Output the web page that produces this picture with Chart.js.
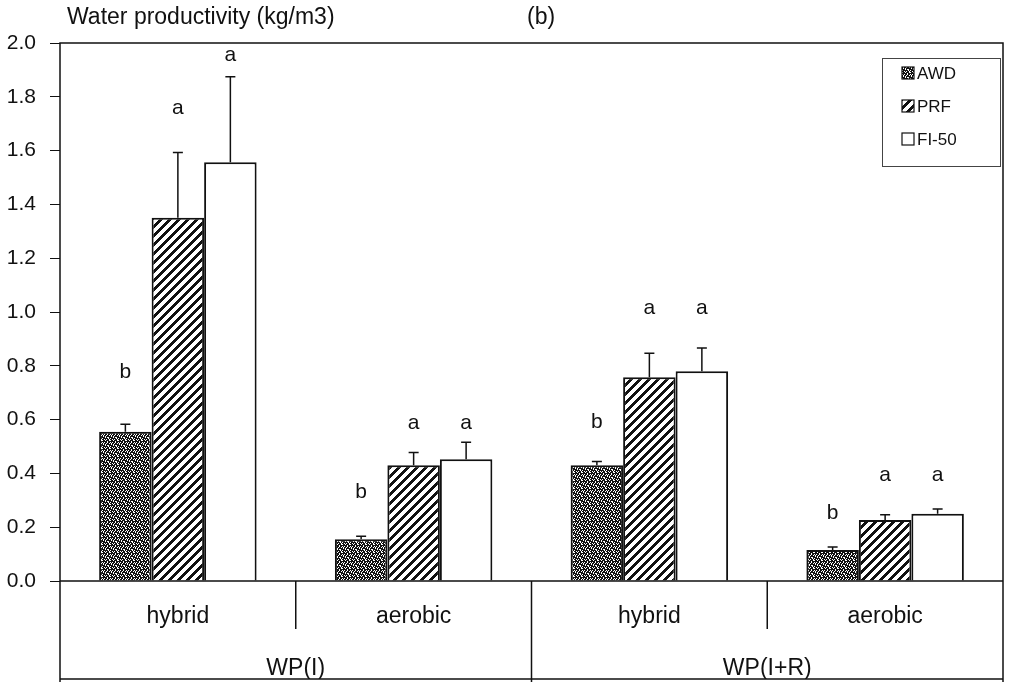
<!DOCTYPE html>
<html>
<head>
<meta charset="utf-8">
<title>Water productivity</title>
<script src="https://cdn.jsdelivr.net/npm/chart.js@4.4.0/dist/chart.umd.min.js"></script>
<style>
  html, body { margin: 0; padding: 0; background: #fff; }
  #wrap { position: relative; width: 1012px; height: 682px; }
</style>
</head>
<body>
<div id="wrap"><canvas id="wpChart"></canvas></div>
<script>
'use strict';

// ── Data ────────────────────────────────────────────────
const subGroups = ['hybrid', 'aerobic', 'hybrid', 'aerobic'];
const mainGroups = ['WP(I)', 'WP(I+R)'];
const seriesNames = ['AWD', 'PRF', 'FI-50'];
const yTicks = [0, 0.2, 0.4, 0.6, 0.8, 1.0, 1.2, 1.4, 1.6, 1.8, 2.0];

const awd  = [0.555, 0.155, 0.43, 0.115];
const prf  = [1.35, 0.43, 0.757, 0.227];
const fi50 = [1.557, 0.453, 0.78, 0.25];

// standard errors (drawn upward only)
const awdErr  = [0.028, 0.011, 0.014, 0.011];
const prfErr  = [0.243, 0.048, 0.09, 0.019];
const fi50Err = [0.318, 0.063, 0.086, 0.018];

// significance letters and the value level they sit at
const awdLetters  = ['b', 'b', 'b', 'b'];
const prfLetters  = ['a', 'a', 'a', 'a'];
const fi50Letters = ['a', 'a', 'a', 'a'];
const awdLetterY  = [0.777, 0.331, 0.591, 0.253];
const prfLetterY  = [1.758, 0.587, 1.015, 0.394];
const fi50LetterY = [1.955, 0.587, 1.015, 0.394];

const FONT = '"Liberation Sans", Arial, Helvetica, sans-serif';
const INK = '#111';
const SUB_BAND = 48;   // height of the hybrid/aerobic row

// ── Fill patterns ───────────────────────────────────────
function tileCanvas(size) {
    const c = document.createElement('canvas');
    c.width = size;
    c.height = size;
    return c;
}

// dense speckle used for AWD
function stippleTile() {
    const rows = [
        '01000110',
        '00010000',
        '10010010',
        '00100101',
        '01000001',
        '01011000',
        '00001010',
        '10100100',
    ];
    const c = tileCanvas(8);
    const g = c.getContext('2d');
    g.fillStyle = INK;
    g.fillRect(0, 0, 8, 8);
    g.fillStyle = '#fff';
    rows.forEach((row, y) => {
        for (let x = 0; x < row.length; x++) {
            if (row[x] === '1') g.fillRect(x, y, 1, 1);
        }
    });
    return c;
}

// forward diagonal hatching used for PRF
function hatchTile() {
    const n = 9;
    const c = tileCanvas(n);
    const g = c.getContext('2d');
    g.fillStyle = '#fff';
    g.fillRect(0, 0, n, n);
    g.fillStyle = INK;
    for (let y = 0; y < n; y++) {
        for (let x = 0; x < n; x++) {
            if ((x + y) % n < 4) g.fillRect(x, y, 1, 1);
        }
    }
    return c;
}

const patCtx = document.createElement('canvas').getContext('2d');
const stipple = patCtx.createPattern(stippleTile(), 'repeat');
const hatch = patCtx.createPattern(hatchTile(), 'repeat');
const fills = [stipple, hatch, '#fff'];
const errors = [awdErr, prfErr, fi50Err];
const letters = [awdLetters, prfLetters, fi50Letters];
const letterY = [awdLetterY, prfLetterY, fi50LetterY];

// ── Error bars, letters, frame, title and legend ────────
const decor = {
    id: 'decor',
    afterDatasetsDraw(chart) {
        const ctx = chart.ctx;
        const y = chart.scales.y;
        ctx.save();
        ctx.strokeStyle = INK;
        ctx.lineWidth = 1.5;
        ctx.fillStyle = INK;
        ctx.font = '21px ' + FONT;
        ctx.textAlign = 'center';
        ctx.textBaseline = 'middle';
        chart.data.datasets.forEach((ds, di) => {
            const meta = chart.getDatasetMeta(di);
            meta.data.forEach((bar, i) => {
                const top = y.getPixelForValue(ds.data[i]);
                const cap = y.getPixelForValue(ds.data[i] + errors[di][i]);
                ctx.beginPath();
                ctx.moveTo(bar.x, top);
                ctx.lineTo(bar.x, cap);
                ctx.moveTo(bar.x - 5, cap);
                ctx.lineTo(bar.x + 5, cap);
                ctx.stroke();
                ctx.fillText(letters[di][i], bar.x, y.getPixelForValue(letterY[di][i]));
            });
        });
        ctx.restore();
    },
    afterDraw(chart) {
        const ctx = chart.ctx;
        const area = chart.chartArea;
        const x = chart.scales.x;
        const x2 = chart.scales.x2;
        const H = chart.height;
        const mid = (a, b) => (x.getPixelForValue(a) + x.getPixelForValue(b)) / 2;

        ctx.save();
        ctx.strokeStyle = INK;
        ctx.lineWidth = 1.5;
        ctx.beginPath();
        // plot frame, extended down through the category band
        ctx.moveTo(area.left, H);
        ctx.lineTo(area.left, area.top);
        ctx.lineTo(area.right, area.top);
        ctx.lineTo(area.right, H);
        // zero line and the foot of the category band
        ctx.moveTo(area.left, area.bottom);
        ctx.lineTo(area.right, area.bottom);
        ctx.moveTo(area.left, x2.bottom);
        ctx.lineTo(area.right, x2.bottom);
        // hybrid | aerobic dividers
        [[0, 1], [2, 3]].forEach(([a, b]) => {
            const px = mid(a, b);
            ctx.moveTo(px, area.bottom);
            ctx.lineTo(px, area.bottom + SUB_BAND);
        });
        // WP(I) | WP(I+R) divider
        const gx = mid(1, 2);
        ctx.moveTo(gx, area.bottom);
        ctx.lineTo(gx, H);
        ctx.stroke();

        // axis title and panel tag
        ctx.fillStyle = INK;
        ctx.font = '23px ' + FONT;
        ctx.textAlign = 'left';
        ctx.textBaseline = 'alphabetic';
        ctx.fillText('Water productivity (kg/m3)', 67, 24);
        ctx.fillText('(b)', 527, 24);

        // legend box
        const lx = 882, ly = 58, lw = 118, lh = 108;
        ctx.lineWidth = 1;
        ctx.strokeStyle = '#444';
        ctx.fillStyle = '#fff';
        ctx.fillRect(lx, ly, lw, lh);
        ctx.strokeRect(lx + 0.5, ly + 0.5, lw, lh);
        ctx.font = '17px ' + FONT;
        ctx.textBaseline = 'middle';
        seriesNames.forEach((name, i) => {
            const cy = ly + 15 + i * 33;
            ctx.fillStyle = fills[i];
            ctx.fillRect(902, cy - 6, 12, 12);
            ctx.strokeStyle = INK;
            ctx.lineWidth = 1.2;
            ctx.strokeRect(902, cy - 6, 12, 12);
            ctx.fillStyle = INK;
            ctx.fillText(name, 917, cy + 1);
        });
        ctx.restore();
    }
};

// ── Chart ───────────────────────────────────────────────
const seriesValues = [awd, prf, fi50];
const datasets = seriesNames.map((name, i) => ({
    label: name,
    data: seriesValues[i],
    backgroundColor: fills[i],
    borderColor: INK,
    borderWidth: 2,
    borderSkipped: 'start',
    categoryPercentage: 0.668,
    barPercentage: 1.0,
}));

new Chart(document.getElementById('wpChart'), {
    type: 'bar',
    data: { labels: subGroups, datasets: datasets },
    plugins: [decor],
    options: {
        responsive: true,
        maintainAspectRatio: false,
        animation: false,
        events: [],
        layout: { padding: { left: 0, right: 9, top: 43, bottom: 3 } },
        plugins: {
            legend: { display: false },
            tooltip: { enabled: false },
        },
        scales: {
            x: {
                type: 'category',
                position: 'bottom',
                grid: { display: false },
                border: { display: false },
                ticks: { color: INK, font: { family: FONT, size: 23 }, padding: 14, maxRotation: 0 },
                afterFit: (s) => { s.height = 52; },
            },
            x2: {
                type: 'category',
                position: 'bottom',
                labels: mainGroups,
                offset: true,
                grid: { display: false },
                border: { display: false },
                ticks: { color: INK, font: { family: FONT, size: 23 }, padding: 14, maxRotation: 0 },
                afterFit: (s) => { s.height = 46; },
            },
            y: {
                min: 0,
                max: 2,
                grid: { drawOnChartArea: false, drawTicks: true, tickLength: 10, color: INK, lineWidth: 1 },
                border: { display: false },
                afterBuildTicks: (s) => { s.ticks = yTicks.map(v => ({ value: v })); },
                ticks: {
                    color: INK,
                    font: { family: FONT, size: 21 },
                    padding: 14,
                    callback: (v) => Number(v).toFixed(1),
                },
                afterFit: (s) => { s.width = 60; },
            },
        },
    },
});
</script>
</body>
</html>
